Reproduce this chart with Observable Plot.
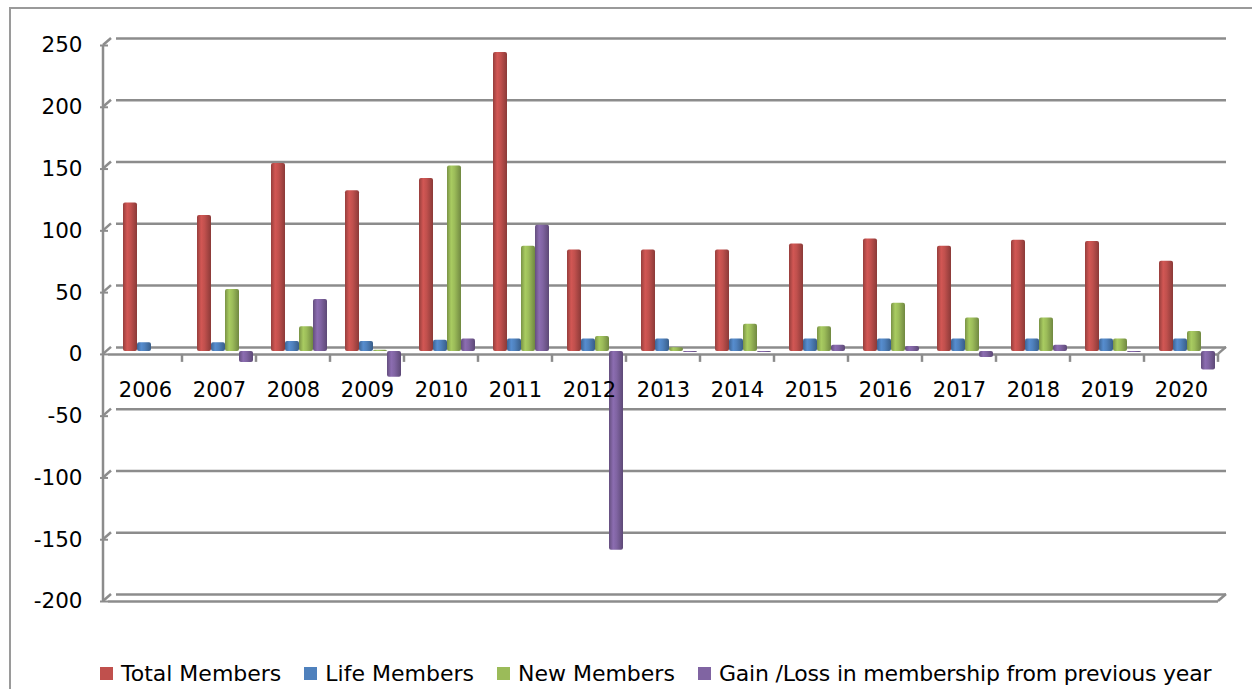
<!DOCTYPE html>
<html><head><meta charset="utf-8">
<script src="https://cdn.jsdelivr.net/npm/d3@7"></script>
<script src="https://cdn.jsdelivr.net/npm/@observablehq/plot@0.6"></script>
<style>
body{margin:0;background:#fff;}
#wrap{position:relative;width:1252px;height:689px;overflow:hidden;font-family:"DejaVu Sans";}
#border{position:absolute;left:9px;top:7px;width:1260px;height:700px;border:2px solid #9a9a9a;box-sizing:border-box;}
#chart{position:absolute;left:0;top:0;}
#legend{position:absolute;left:100px;top:661px;display:flex;align-items:center;font-size:22px;color:#000;white-space:nowrap;}
.item{display:flex;align-items:center;margin-right:23px;}
.item.last span{letter-spacing:-0.2px;}
.sw{width:13px;height:13px;margin-right:8px;}
#chart g[aria-label^="y-axis"] line, #chart g[aria-label="y-axis tick"] path{stroke:#8c8c8c;stroke-width:2px;}
</style></head><body>
<div id="wrap"><div id="border"></div><div id="chart"></div><div id="legend"></div></div>
<script>
const years = [2006,2007,2008,2009,2010,2011,2012,2013,2014,2015,2016,2017,2018,2019,2020];
const seriesNames = ["Total Members","Life Members","New Members","Gain /Loss in membership from previous year"];
const totalMembers = [120,110,152,130,140,242,82,82,82,87,91,85,90,89,73];
const lifeMembers  = [7,7,8,8,9,10,10,10,10,10,10,10,10,10,10];
const newMembers   = [0,50,20,1,150,85,12,3,22,20,39,27,27,10,16];
const gainLoss     = [0,-9,42,-21,10,102,-161,-1,-1,5,4,-5,5,-1,-15];
const seriesColors = ["#c0504d","#4f81bd","#9bbb59","#8064a2"];
const yTicks = [-200,-150,-100,-50,0,50,100,150,200,250];

const seriesValues = [totalMembers, lifeMembers, newMembers, gainLoss];
const rows = [];
years.forEach((yr, i) => seriesValues.forEach((vals, k) => rows.push({year: yr, series: seriesNames[k], value: vals[i]})));

const W = 1252, ML = 103, MR = 30;
const plot = Plot.plot({
  width: W, height: 640,
  marginLeft: ML, marginRight: MR, marginTop: 45, marginBottom: 39,
  style: {fontFamily: "DejaVu Sans", fontSize: "21.5px", color: "#000", background: "transparent"},
  fx: {domain: years, padding: 0, axis: null},
  x: {domain: seriesNames, paddingInner: 0, paddingOuter: 0.5, axis: null},
  y: {domain: [-200, 250], ticks: yTicks, tickFormat: d => String(d), tickSize: 8, tickPadding: 18, label: null},
  color: {type: "ordinal", domain: seriesNames, range: seriesNames.map((d, i) => `url(#cyl${i})`)},
  marks: [
    Plot.ruleY(yTicks, {stroke: "#8c8c8c", strokeWidth: 2.5, dx: 8, dy: -7}),
    Plot.ruleY([0, -200], {stroke: "#8c8c8c", strokeWidth: 2.5}),
    Plot.barY(rows, {fx: "year", x: "series", y: "value", fill: "series", dx: 6, dy: -3, rx: 2}),
    Plot.text(years, {fx: d => d, y: () => 0, text: d => String(d), dy: 36, fontSize: 21, fill: "#000"})
  ]
});
document.getElementById("chart").appendChild(plot);

// cylinder-like gradients
const defs = d3.select(plot).insert("defs", ":first-child");
seriesColors.forEach((c, i) => {
  const g = defs.append("linearGradient").attr("id", `cyl${i}`).attr("x1", "0").attr("x2", "1").attr("y1", "0").attr("y2", "0");
  const base = d3.color(c);
  [[0, base.darker(0.7)], [0.3, base.brighter(0.25)], [0.55, base], [1, base.darker(0.9)]]
    .forEach(([o, col]) => g.append("stop").attr("offset", o).attr("stop-color", col.formatHex()));
});

// axis line, wall diagonals, category ticks
const yS = plot.scale("y");
const fxS = plot.scale("fx");
let bands;
if (fxS && fxS.apply) bands = years.map(yr => [fxS.apply(yr), fxS.apply(yr) + fxS.bandwidth]);
else { const b = d3.scaleBand(years, [ML, W - MR]).padding(0); bands = years.map(yr => [b(yr), b(yr) + b.bandwidth()]); }
const left = ML;
const right = bands[bands.length - 1][1];
const g = d3.select(plot).append("g").attr("stroke", "#8c8c8c").attr("stroke-width", 2.5).attr("fill", "none");
g.append("line").attr("x1", left).attr("x2", left).attr("y1", yS.apply(250)).attr("y2", yS.apply(-200));
yTicks.forEach(t => g.append("line").attr("x1", left).attr("y1", yS.apply(t)).attr("x2", left + 8).attr("y2", yS.apply(t) - 7));
g.append("line").attr("x1", right).attr("y1", yS.apply(-200)).attr("x2", right + 8).attr("y2", yS.apply(-200) - 7);
g.append("line").attr("x1", right).attr("y1", yS.apply(0)).attr("x2", right + 8).attr("y2", yS.apply(0) - 7);
bands.forEach(([a, b]) => g.append("line").attr("x1", b).attr("x2", b).attr("y1", yS.apply(0)).attr("y2", yS.apply(0) + 8));

// legend
const leg = d3.select("#legend");
seriesNames.forEach((n, i) => {
  const it = leg.append("div").attr("class", "item" + (i === seriesNames.length - 1 ? " last" : ""));
  it.append("div").attr("class", "sw").style("background", seriesColors[i]);
  it.append("span").text(n);
});
</script>
</body></html>
